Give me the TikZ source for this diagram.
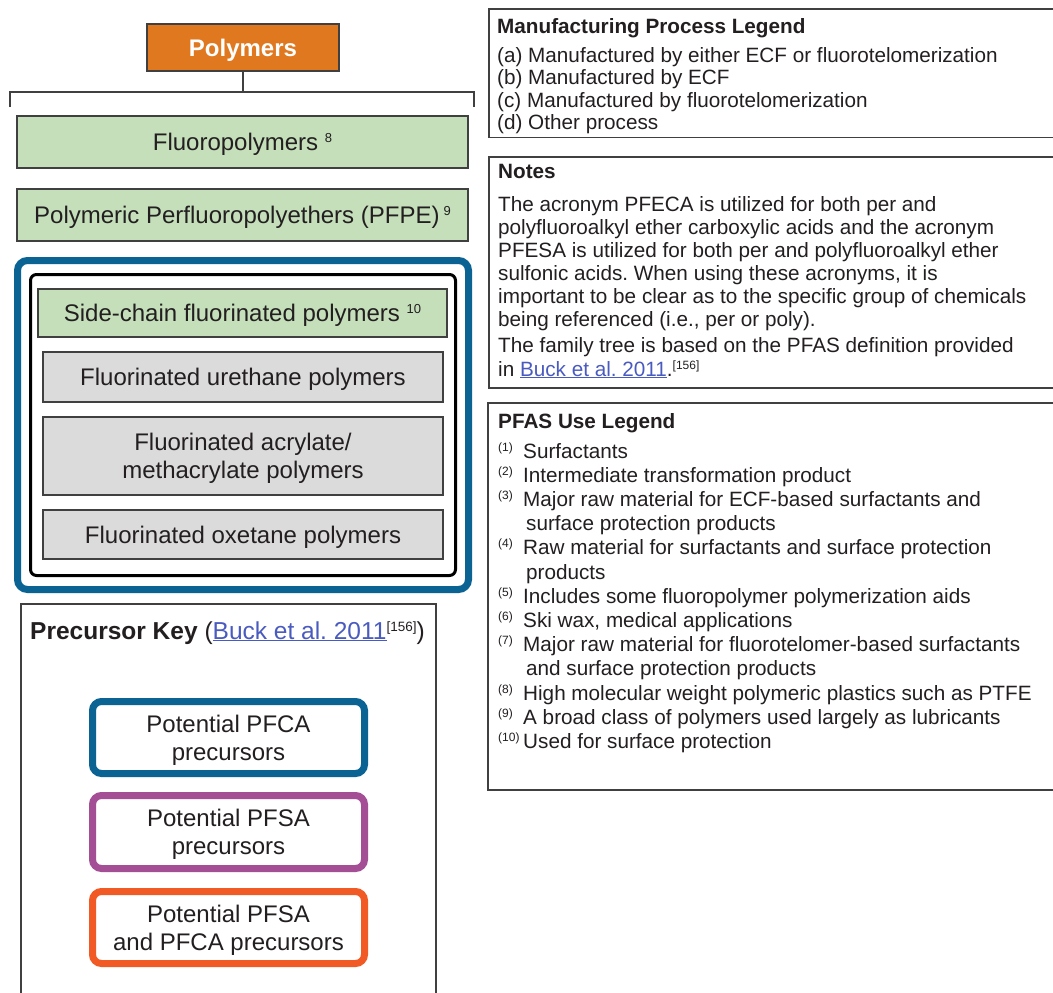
\documentclass[tikz,border=0pt]{standalone}
\usepackage{fontspec}
\setmainfont{Liberation Sans}
\definecolor{polyorange}{HTML}{E07820}
\definecolor{boxgreen}{HTML}{C4DFBA}
\definecolor{boxgray}{HTML}{DBDBDC}
\definecolor{pfcablue}{HTML}{0B6394}
\definecolor{pfsapurple}{HTML}{A44E96}
\definecolor{bothorange}{HTML}{F15A24}
\definecolor{edge}{HTML}{404040}
\definecolor{ink}{HTML}{231F20}
\definecolor{linkblue}{HTML}{4A5BC0}
\newcommand{\fs}[2]{\fontsize{#1}{#2}\selectfont}
\newcommand{\boxsup}[1]{\raisebox{8pt}{\fs{13}{13}#1}}
\newcommand{\legsup}[1]{\raisebox{7pt}{\fs{12}{12}#1}}
\newcommand{\useno}[1]{\makebox[25pt][l]{\legsup{#1}}}
\tikzset{
  catbox/.style={draw=edge, line width=1.5pt, inner sep=0pt, text=ink, font=\fs{24}{28}, align=center, text depth=0pt},
  greenbox/.style={catbox, fill=boxgreen},
  graybox/.style={catbox, fill=boxgray},
  keybox/.style={line width=7pt, rounded corners=9pt, fill=white, inner sep=0pt, text=ink, font=\fs{24}{28}, align=center, minimum width=272pt, text depth=0pt},
  legendframe/.style={draw=edge, line width=1.5pt},
  legtitle/.style={anchor=base west, inner sep=0pt, font=\bfseries\fs{20.7}{23}, text=ink},
  legline/.style={anchor=base west, inner sep=0pt, font=\fs{20.7}{23}, text=ink},
  bracketline/.style={draw=edge, line width=1.5pt}
}
\begin{document}
\begin{tikzpicture}[x=1pt,y=-1pt]
\useasboundingbox (0,0) rectangle (1053,993);
\fill[white] (0,0) rectangle (1053,993);

% ---------- tree ----------
\node[catbox, fill=polyorange, text=white, font=\bfseries\fs{24}{28}, minimum width=192pt, minimum height=47pt] (poly) at (243,47.5) {Polymers};
\coordinate (bj) at (243,92);
\coordinate (bl) at (10,107);
\coordinate (br) at (474,107);
\draw[bracketline] (poly.south) -- (bj);
\draw[bracketline] (bl) -- (bl |- bj) -- (br |- bj) -- (br);

\node[greenbox, minimum width=451pt, minimum height=52pt] (fluoro) at (242.5,142) {Fluoropolymers \boxsup{8}};
\node[greenbox, minimum width=451pt, minimum height=52pt] (pfpe) at (242.5,215) {Polymeric Perfluoropolyethers (PFPE)\,\boxsup{9}};

\node[draw=pfcablue, line width=7pt, rounded corners=10pt, minimum width=451pt, minimum height=329pt, inner sep=0pt] (pfcagroup) at (243,425) {};
\node[draw=black, line width=3pt, rounded corners=6pt, minimum width=425pt, minimum height=301pt, inner sep=0pt] (sidegroup) at (243,425) {};

\node[greenbox, minimum width=409pt, minimum height=48pt] (sidechain) at (242.5,313) {Side-chain fluorinated polymers \boxsup{10}};
\node[graybox, minimum width=400pt, minimum height=50pt] (urethane) at (243,377) {Fluorinated urethane polymers};
\node[graybox, minimum width=400pt, minimum height=78pt] (acrylate) at (243,456) {Fluorinated acrylate/\\methacrylate polymers};
\node[graybox, minimum width=400pt, minimum height=49pt] (oxetane) at (243,534.5) {Fluorinated oxetane polymers};

% ---------- precursor key ----------
\draw[legendframe] (21,1005) -- (21,604) -- (436,604) -- (436,1005);
\node[anchor=base west, inner sep=0pt, text=ink, font=\fs{24.5}{27}] (keytitle) at (30,639) {\textbf{Precursor Key} (\textcolor{linkblue}{\underline{Buck et al.\ 2011}}\raisebox{8pt}{\fs{13.5}{14}[156]})};
\node[keybox, draw=pfcablue, minimum height=72pt] (keypfca) at (228.5,737.5) {Potential PFCA\\precursors};
\node[keybox, draw=pfsapurple, minimum height=73pt] (keypfsa) at (228.5,832) {Potential PFSA\\precursors};
\node[keybox, draw=bothorange, minimum height=72pt] (keyboth) at (228.5,927.5) {Potential PFSA\\and PFCA precursors};

% ---------- manufacturing legend ----------
\draw[legendframe] (1070,9) -- (489,9) -- (489,137.5) -- (1070,137.5);
\node[legtitle] (mtitle) at (497,33) {Manufacturing Process Legend};
\node[legline] (ma) at (497,62) {(a) Manufactured by either ECF or fluorotelomerization};
\node[legline] (mb) at (497,84.5) {(b) Manufactured by ECF};
\node[legline] (mc) at (497,107) {(c) Manufactured by fluorotelomerization};
\node[legline] (md) at (497,129.5) {(d) Other process};

% ---------- notes ----------
\draw[legendframe] (1070,157) -- (489,157) -- (489,388) -- (1070,388);
\node[legtitle] (ntitle) at (498,178) {Notes};
\node[legline] (n1) at (498,211) {The acronym PFECA is utilized for both per and};
\node[legline] (n2) at (498,234) {polyfluoroalkyl ether carboxylic acids and the acronym};
\node[legline] (n3) at (498,257) {PFESA is utilized for both per and polyfluoroalkyl ether};
\node[legline] (n4) at (498,280) {sulfonic acids.\ When using these acronyms, it is};
\node[legline] (n5) at (498,303) {important to be clear as to the specific group of chemicals};
\node[legline] (n6) at (498,326) {being referenced (i.e., per or poly).};
\node[legline] (n7) at (498,352) {The family tree is based on the PFAS definition provided};
\node[legline] (n8) at (498,376) {in \textcolor{linkblue}{\underline{Buck et al.\ 2011}}.\legsup{[156]}};

% ---------- PFAS use legend ----------
\draw[legendframe] (1070,403) -- (488,403) -- (488,790) -- (1070,790);
\node[legtitle] (utitle) at (498,428) {PFAS Use Legend};
\node[legline] (u1) at (498,458) {\useno{(1)}Surfactants};
\node[legline] (u2) at (498,482.2) {\useno{(2)}Intermediate transformation product};
\node[legline] (u3) at (498,506.4) {\useno{(3)}Major raw material for ECF-based surfactants and};
\node[legline] (u3b) at (526,530.6) {surface protection products};
\node[legline] (u4) at (498,554.8) {\useno{(4)}Raw material for surfactants and surface protection};
\node[legline] (u4b) at (526,579) {products};
\node[legline] (u5) at (498,603.2) {\useno{(5)}Includes some fluoropolymer polymerization aids};
\node[legline] (u6) at (498,627.4) {\useno{(6)}Ski wax, medical applications};
\node[legline] (u7) at (498,651.6) {\useno{(7)}Major raw material for fluorotelomer-based surfactants};
\node[legline] (u7b) at (526,675.8) {and surface protection products};
\node[legline] (u8) at (498,700) {\useno{(8)}High molecular weight polymeric plastics such as PTFE};
\node[legline] (u9) at (498,724.2) {\useno{(9)}A broad class of polymers used largely as lubricants};
\node[legline] (u10) at (498,748.4) {\useno{(10)}Used for surface protection};
\end{tikzpicture}
\end{document}
